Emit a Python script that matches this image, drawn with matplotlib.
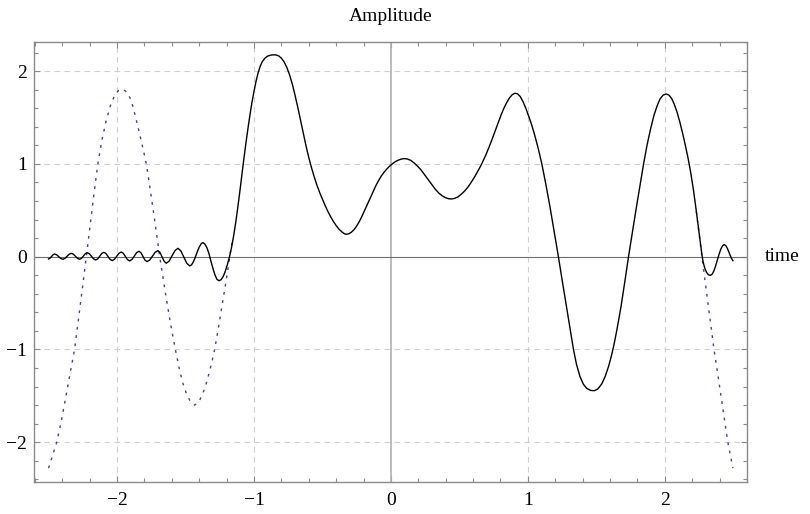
import matplotlib
matplotlib.use("Agg")
import matplotlib.pyplot as plt
from matplotlib.ticker import MultipleLocator

plt.rcParams['font.family'] = ['Liberation Serif', 'DejaVu Serif']

# solid black curve
black_x = [-2.500, -2.489, -2.478, -2.467, -2.456, -2.441, -2.426, -2.410,
           -2.395, -2.380, -2.365, -2.349, -2.334, -2.319, -2.304, -2.288,
           -2.273, -2.259, -2.245, -2.231, -2.217, -2.202, -2.187, -2.171,
           -2.156, -2.141, -2.126, -2.111, -2.096, -2.081, -2.066, -2.050,
           -2.035, -2.019, -2.002, -1.986, -1.969, -1.954, -1.939, -1.923,
           -1.908, -1.891, -1.874, -1.857, -1.840, -1.825, -1.811, -1.796,
           -1.781, -1.761, -1.741, -1.721, -1.701, -1.686, -1.671, -1.655,
           -1.640, -1.619, -1.598, -1.576, -1.555, -1.534, -1.512, -1.490,
           -1.469, -1.457, -1.445, -1.432, -1.420, -1.408, -1.396, -1.384,
           -1.372, -1.358, -1.343, -1.328, -1.314, -1.299, -1.284, -1.270,
           -1.255, -1.240, -1.225, -1.210, -1.195, -1.180, -1.165, -1.150,
           -1.135, -1.120, -1.105, -1.090, -1.075, -1.060, -1.045, -1.030,
           -1.015, -1.000, -0.985, -0.970, -0.955, -0.940, -0.920, -0.900,
           -0.880, -0.860, -0.841, -0.820, -0.800, -0.780, -0.760, -0.740,
           -0.720, -0.700, -0.680, -0.660, -0.640, -0.620, -0.600, -0.580,
           -0.560, -0.540, -0.520, -0.500, -0.480, -0.460, -0.440, -0.420,
           -0.400, -0.380, -0.360, -0.345, -0.329, -0.310, -0.290, -0.270,
           -0.250, -0.230, -0.210, -0.190, -0.170, -0.153, -0.130, -0.110,
           -0.090, -0.070, -0.050, -0.030, -0.010, 0.010, 0.030, 0.050,
           0.075, 0.097, 0.120, 0.145, 0.170, 0.195, 0.220, 0.245,
           0.273, 0.300, 0.325, 0.350, 0.375, 0.400, 0.420, 0.443,
           0.465, 0.490, 0.515, 0.540, 0.565, 0.590, 0.615, 0.640,
           0.663, 0.690, 0.715, 0.740, 0.765, 0.785, 0.805, 0.825,
           0.845, 0.865, 0.885, 0.906, 0.925, 0.945, 0.965, 0.985,
           1.005, 1.028, 1.050, 1.075, 1.102, 1.130, 1.160, 1.190,
           1.223, 1.250, 1.280, 1.305, 1.333, 1.355, 1.380, 1.405,
           1.430, 1.458, 1.486, 1.512, 1.540, 1.565, 1.590, 1.610,
           1.630, 1.650, 1.680, 1.708, 1.735, 1.762, 1.790, 1.818,
           1.845, 1.870, 1.895, 1.920, 1.945, 1.965, 1.988, 2.010,
           2.030, 2.050, 2.070, 2.090, 2.110, 2.130, 2.150, 2.170,
           2.190, 2.210, 2.230, 2.250, 2.271, 2.280, 2.292, 2.305,
           2.318, 2.332, 2.345, 2.358, 2.371, 2.384, 2.397, 2.410,
           2.422, 2.434, 2.446, 2.458, 2.470, 2.484, 2.497]
black_y = [-0.025, -0.016, 0.002, 0.020, 0.029, 0.020, 0.000, -0.020,
           -0.028, -0.019, 0.004, 0.027, 0.036, 0.027, 0.004, -0.019,
           -0.028, -0.018, 0.008, 0.033, 0.043, 0.031, 0.004, -0.024,
           -0.036, -0.024, 0.006, 0.035, 0.047, 0.034, 0.002, -0.030,
           -0.043, -0.029, 0.004, 0.036, 0.050, 0.036, 0.002, -0.032,
           -0.046, -0.031, 0.006, 0.043, 0.058, 0.042, 0.003, -0.037,
           -0.053, -0.036, 0.006, 0.048, 0.065, 0.045, -0.003, -0.051,
           -0.071, -0.047, 0.010, 0.066, 0.090, 0.062, -0.005, -0.072,
           -0.100, -0.090, -0.063, -0.020, 0.026, 0.075, 0.114, 0.142,
           0.151, 0.135, 0.095, 0.030, -0.050, -0.130, -0.200, -0.245,
           -0.260, -0.248, -0.215, -0.160, -0.090, -0.010, 0.090, 0.210,
           0.350, 0.510, 0.680, 0.860, 1.040, 1.210, 1.370, 1.520,
           1.660, 1.780, 1.890, 1.980, 2.050, 2.100, 2.140, 2.162,
           2.172, 2.176, 2.175, 2.165, 2.140, 2.100, 2.040, 1.960,
           1.860, 1.740, 1.610, 1.470, 1.330, 1.195, 1.070, 0.960,
           0.860, 0.770, 0.690, 0.620, 0.550, 0.487, 0.430, 0.380,
           0.335, 0.298, 0.270, 0.252, 0.241, 0.245, 0.262, 0.290,
           0.330, 0.380, 0.440, 0.505, 0.570, 0.625, 0.700, 0.765,
           0.820, 0.870, 0.910, 0.945, 0.975, 1.000, 1.022, 1.038,
           1.052, 1.057, 1.053, 1.038, 1.010, 0.975, 0.935, 0.885,
           0.830, 0.775, 0.725, 0.685, 0.655, 0.635, 0.625, 0.622,
           0.628, 0.645, 0.675, 0.710, 0.755, 0.810, 0.870, 0.935,
           1.000, 1.085, 1.175, 1.270, 1.370, 1.450, 1.530, 1.600,
           1.660, 1.710, 1.745, 1.762, 1.755, 1.725, 1.670, 1.600,
           1.520, 1.420, 1.310, 1.170, 1.000, 0.790, 0.550, 0.290,
           0.000, -0.250, -0.520, -0.750, -1.000, -1.160, -1.290, -1.375,
           -1.420, -1.442, -1.445, -1.425, -1.370, -1.290, -1.180, -1.070,
           -0.940, -0.790, -0.540, -0.270, 0.000, 0.250, 0.510, 0.760,
           1.000, 1.200, 1.370, 1.520, 1.630, 1.700, 1.742, 1.754,
           1.742, 1.705, 1.640, 1.555, 1.450, 1.330, 1.200, 1.060,
           0.900, 0.710, 0.490, 0.260, 0.020, -0.060, -0.125, -0.170,
           -0.195, -0.202, -0.190, -0.155, -0.100, -0.035, 0.030, 0.085,
           0.118, 0.130, 0.118, 0.085, 0.040, -0.010, -0.043]

# dotted blue curve, visible parts (it runs under the black one in the middle)
blue_left_x = [-2.500, -2.470, -2.440, -2.405, -2.370, -2.340, -2.310, -2.280,
               -2.252, -2.224, -2.196, -2.168, -2.140, -2.110, -2.080, -2.050,
               -2.020, -1.990, -1.957, -1.925, -1.895, -1.860, -1.830, -1.808,
               -1.786, -1.755, -1.722, -1.688, -1.650, -1.612, -1.574, -1.545,
               -1.520, -1.495, -1.465, -1.433, -1.405, -1.380, -1.355, -1.330,
               -1.308, -1.287, -1.268, -1.250, -1.230, -1.210, -1.193, -1.177,
               -1.160]
blue_left_y = [-2.280, -2.140, -2.000, -1.760, -1.480, -1.240, -1.000, -0.660,
               -0.330, 0.000, 0.340, 0.680, 1.000, 1.260, 1.460, 1.620,
               1.730, 1.790, 1.805, 1.770, 1.680, 1.480, 1.290, 1.150,
               1.000, 0.700, 0.360, 0.000, -0.360, -0.700, -1.000, -1.210,
               -1.360, -1.470, -1.560, -1.600, -1.570, -1.500, -1.400, -1.270,
               -1.140, -1.000, -0.840, -0.680, -0.500, -0.320, -0.160, 0.000,
               0.150]
blue_right_x = [2.230, 2.250, 2.271, 2.293, 2.315, 2.337, 2.359, 2.385,
                2.410, 2.435, 2.460, 2.480, 2.497]
blue_right_y = [0.490, 0.250, 0.000, -0.250, -0.500, -0.750, -1.000, -1.250,
                -1.500, -1.750, -2.000, -2.150, -2.280]

x_ticks = [-2, -1, 0, 1, 2]
y_ticks = [-2, -1, 0, 1, 2]

fig = plt.figure(figsize=(8.1, 5.14), dpi=100)
ax = fig.add_axes([0.042, 0.0623, 0.8802, 0.8567])

frame_gray = '#8a8a8a'
blue = '#4040a6'

for g in [-2, -1, 1, 2]:
    ax.axvline(g, color='#cfcfcf', lw=0.8, ls=(0, (5, 4)), zorder=1)
    ax.axhline(g, color='#cfcfcf', lw=0.8, ls=(0, (5, 4)), zorder=1)
ax.axvline(0, color='#b0b0b0', lw=1.2, zorder=2)
ax.axhline(0, color='#6e6e6e', lw=0.8, zorder=2)

ax.plot(blue_left_x, blue_left_y, color=blue, lw=1.0, ls=(0, (2, 4)), zorder=3)
ax.plot(blue_right_x, blue_right_y, color=blue, lw=1.0, ls=(0, (2, 4)), zorder=3)
ax.plot(black_x, black_y, color='black', lw=1.0, zorder=4)

ax.set_xlim(-2.606, 2.60)
ax.set_ylim(-2.429, 2.318)
ax.set_xticks(x_ticks)
ax.set_yticks(y_ticks)
ax.xaxis.set_minor_locator(MultipleLocator(0.2))
ax.yaxis.set_minor_locator(MultipleLocator(0.2))
ax.tick_params(which='both', direction='in', top=True, right=True,
               color=frame_gray, labelsize=14)
ax.tick_params(which='major', length=4.5, width=0.8)
ax.tick_params(which='minor', length=2.8, width=0.8)
ax.tick_params(axis='x', pad=7)
ax.tick_params(axis='y', pad=5)
for s in ax.spines.values():
    s.set_color(frame_gray)
    s.set_linewidth(1.0)

ax.annotate('Amplitude', xy=(0, 1), xycoords=('data', 'axes fraction'),
            xytext=(0, 18), textcoords='offset points',
            ha='center', va='center', fontsize=14, annotation_clip=False)
ax.annotate('time', xy=(1, 0), xycoords=('axes fraction', 'data'),
            xytext=(13, 0), textcoords='offset points',
            ha='left', va='center', fontsize=14, annotation_clip=False)

fig.savefig('out.png', dpi=100)
